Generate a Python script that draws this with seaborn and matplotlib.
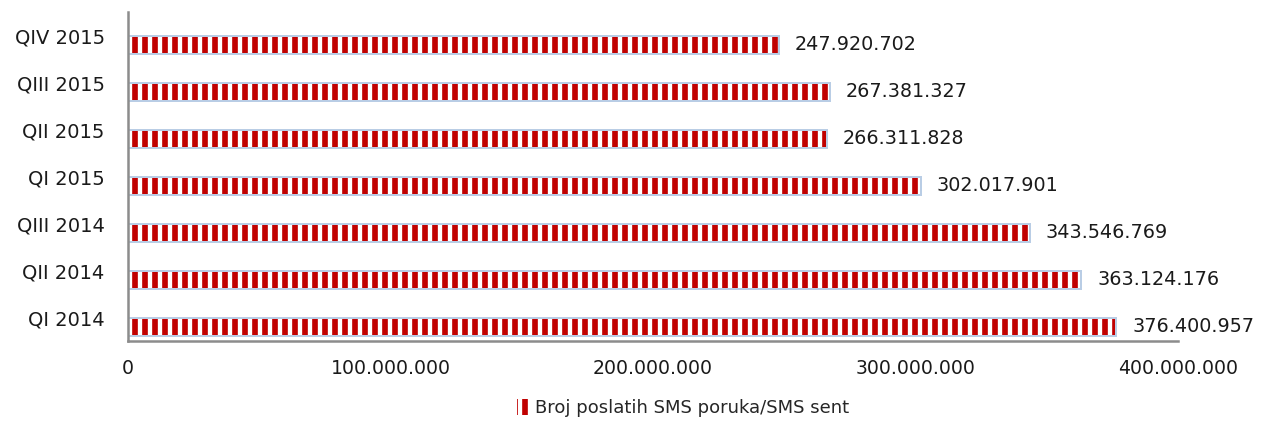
import matplotlib
matplotlib.use("Agg")
import matplotlib.pyplot as plt
import matplotlib.transforms as mtransforms
from matplotlib.patches import Patch
import seaborn as sns
import pandas as pd

categories = ["QIV 2015", "QIII 2015", "QII 2015", "QI 2015", "QIII 2014", "QII 2014", "QI 2014"]
values = [247920702, 267381327, 266311828, 302017901, 343546769, 363124176, 376400957]
value_labels = ["247.920.702", "267.381.327", "266.311.828", "302.017.901", "343.546.769", "363.124.176", "376.400.957"]
x_ticks = [0, 100000000, 200000000, 300000000, 400000000]
x_tick_labels = ["0", "100.000.000", "200.000.000", "300.000.000", "400.000.000"]
legend_label = "Broj poslatih SMS poruka/SMS sent"

RED = "#C00000"
EDGE = "#B9CDE5"
SPINE = "#8C8C8C"
TXT = "#1a1a1a"

sns.set_theme(style="white")
plt.rcParams["font.family"] = ["DejaVu Sans"]
plt.rcParams["hatch.linewidth"] = 3.4

DPI = 120
W, H = 1262, 422
fig = plt.figure(figsize=(W / DPI, H / DPI), dpi=DPI)
left, right, top, bottom = 128, 1178, 12, 341
ax = fig.add_axes([left / W, 1 - bottom / H, (right - left) / W, (bottom - top) / H])

df = pd.DataFrame({"period": categories, "sms": values})

sns.barplot(data=df, x="sms", y="period", order=categories, orient="h",
            color="white", width=0.38, ax=ax, saturation=1)
for p in ax.patches:
    p.set_hatch("||")
    p.set_edgecolor(RED)
    p.set_linewidth(0)

sns.barplot(data=df, x="sms", y="period", order=categories, orient="h",
            fill=False, edgecolor=EDGE, linewidth=1.2, width=0.38, ax=ax)

for i, (v, lab) in enumerate(zip(values, value_labels)):
    ax.annotate(lab, xy=(v, i), xytext=(16, 0), textcoords="offset pixels",
                ha="left", va="center", fontsize=11.5, color=TXT)

ax.set_xlim(0, 400000000)
ax.set_ylim(6.298, -0.702)
ax.set_xticks(x_ticks)
ax.set_xticklabels(x_tick_labels, fontsize=11.3, color=TXT)
ax.tick_params(axis="x", length=0, pad=11)
ax.tick_params(axis="y", length=0, pad=14, labelsize=11.7, labelcolor=TXT)
off = mtransforms.ScaledTranslation(0, 9 / DPI, fig.dpi_scale_trans)
for t in ax.get_yticklabels():
    t.set_transform(t.get_transform() + off)
ax.set_xlabel("")
ax.set_ylabel("")

for s in ["top", "right"]:
    ax.spines[s].set_visible(False)
for s in ["left", "bottom"]:
    ax.spines[s].set_color(SPINE)
    ax.spines[s].set_linewidth(1.5)

handle = Patch(facecolor="white", edgecolor=RED, hatch="||", linewidth=0)
fig.legend([handle], [legend_label], loc="center", bbox_to_anchor=(683 / W, 1 - 408 / H),
           frameon=False, fontsize=10.8, handlelength=0.6, handleheight=1.0,
           handletextpad=0.4)

fig.savefig("out.png", dpi=DPI)
